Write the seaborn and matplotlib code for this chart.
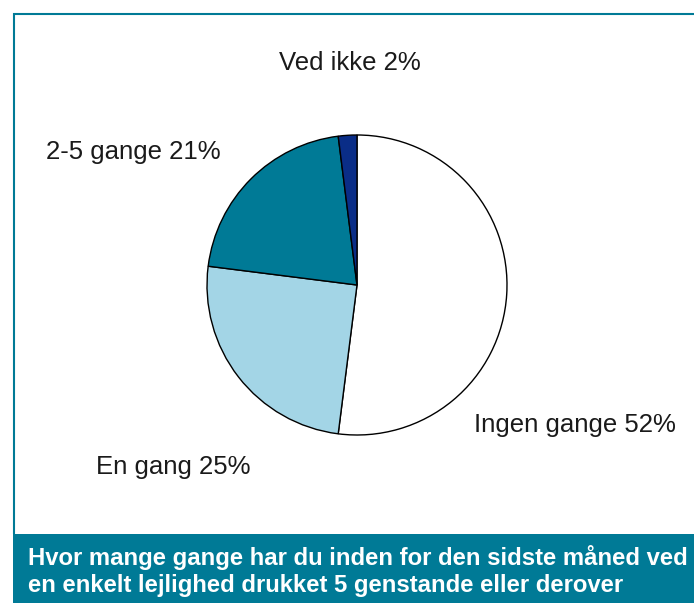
import matplotlib
matplotlib.use("Agg")
import matplotlib.pyplot as plt
import seaborn as sns
from matplotlib.patches import Rectangle
from matplotlib.lines import Line2D

categories = ["Ingen gange", "En gang", "2-5 gange", "Ved ikke"]
values = [52, 25, 21, 2]
colors = ["#ffffff", "#a3d5e6", "#007a96", "#0a2d87"]
title = "Hvor mange gange har du inden for den sidste måned ved\nen enkelt lejlighed drukket 5 genstande eller derover"

sns.set_theme(style="white")
plt.rcParams['font.family'] = ['Liberation Sans', 'DejaVu Sans']

W, H = 694, 603
fig = plt.figure(figsize=(W / 100, H / 100), dpi=100)
fig.patch.set_facecolor("white")

def fx(x):
    return x / W

def fy(y):
    return 1 - y / H

# frame lines
teal = "#007a96"
fig.add_artist(Line2D([fx(13), 1], [fy(13.5), fy(13.5)], color=teal, lw=1.5,
                      solid_capstyle="butt", transform=fig.transFigure))
fig.add_artist(Line2D([fx(13.5), fx(13.5)], [fy(13), fy(534)], color=teal, lw=1.5,
                      solid_capstyle="butt", transform=fig.transFigure))
# banner
fig.add_artist(Rectangle((fx(13), 0), 1 - fx(13), fy(534), color=teal, transform=fig.transFigure, lw=0))
fig.text(fx(28), fy(571), title, color="white", fontsize=17.2, fontweight="bold",
         ha="left", va="center", linespacing=1.25)

cx, cy, r = 357, 285, 150
ax = fig.add_axes([fx(cx - r), fy(cy + r), 2 * r / W, 2 * r / H])
ax.pie(values, colors=colors, startangle=90, counterclock=False,
       wedgeprops=dict(edgecolor="black", linewidth=1.0))
ax.set_xlim(-1.0, 1.0)
ax.set_ylim(-1.0, 1.0)
ax.set_aspect("equal")
ax.axis("off")

label_pos = [(575, 425), (173, 467), (133, 152), (350, 63)]
for cat, v, (x, y) in zip(categories, values, label_pos):
    fig.text(fx(x), fy(y), f"{cat} {v}%", fontsize=18.5, color="#1a1a1a",
             ha="center", va="center")

fig.savefig("out.png", dpi=100)
